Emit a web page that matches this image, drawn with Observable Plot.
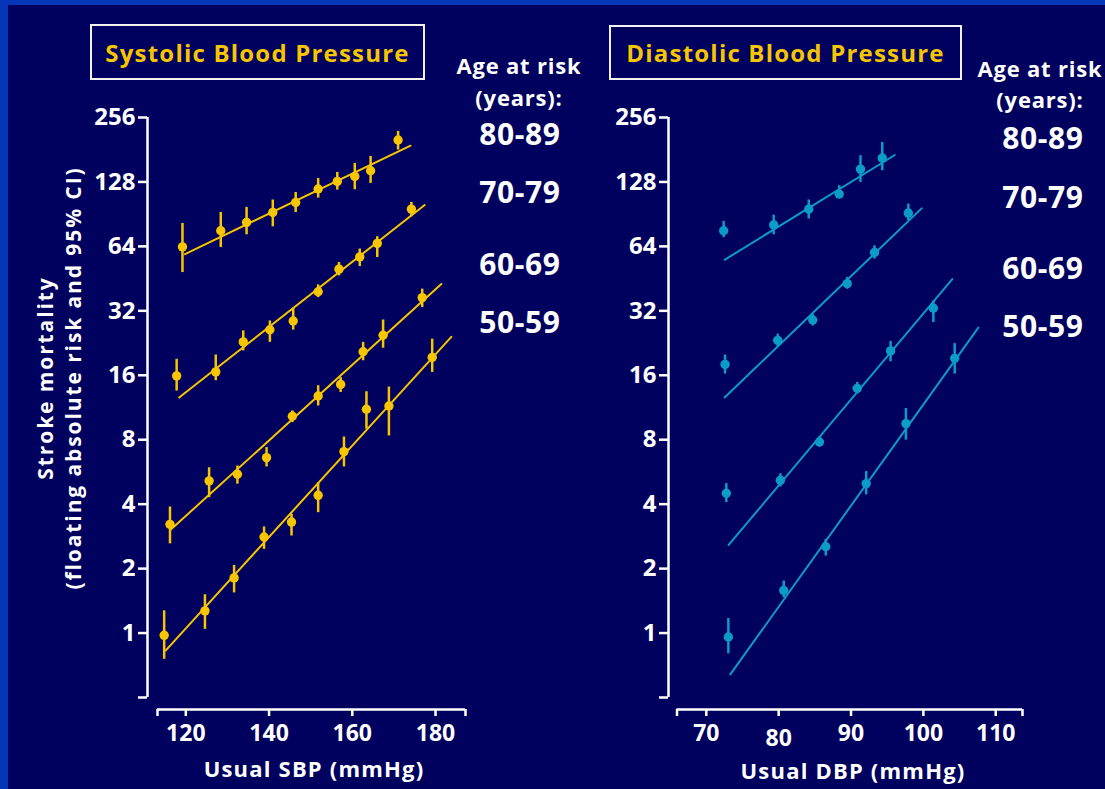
<!DOCTYPE html>
<html>
<head>
<meta charset="utf-8">
<script src="https://cdn.jsdelivr.net/npm/d3@7"></script>
<script src="https://cdn.jsdelivr.net/npm/@observablehq/plot@0.6"></script>
<style>
  html, body { margin: 0; padding: 0; background: #0636b8; }
  #page { position: relative; width: 1105px; height: 789px; overflow: hidden; background: #0636b8; font-family: "Open Sans", sans-serif; font-weight: 700; color: #fff; }
  #inner { position: absolute; left: 8px; top: 5px; right: 0; bottom: 0; background: #00005e; }
  .abs { position: absolute; white-space: nowrap; transform: translate(-50%, -50%); text-align: center; line-height: 1; }
  .box { position: absolute; border: 2.5px solid #f2f2f2; box-sizing: border-box; color: #f7c600; font-size: 24px; letter-spacing: 1.2px; display: flex; align-items: center; justify-content: center; }
  .plot { position: absolute; top: 0; }
  .age { font-size: 30px; letter-spacing: 0.6px; }
  .hdr { font-size: 22px; letter-spacing: 0.8px; }
  .xl { font-size: 22px; letter-spacing: 1.2px; }
  .yl { font-size: 21px; letter-spacing: 1.9px; }
</style>
</head>
<body>
<div id="page">
  <div id="inner"></div>
</div>
<script>
// ---------- data ----------
const ageGroups = ["80-89", "70-79", "60-69", "50-59"];
const riskTicks = [0.5, 1, 2, 4, 8, 16, 32, 64, 128, 256];

// Systolic blood pressure panel
const sbpTicks = [120, 140, 160, 180];
const sbpDomain = [113.2, 187.2];
const sbpX = [
  [119.2, 128.4, 134.6, 140.9, 146.4, 151.8, 156.4, 160.6, 164.4, 171.0],
  [117.8, 127.2, 133.8, 140.2, 145.8, 151.8, 156.8, 161.8, 166.0, 174.2],
  [116.2, 125.6, 132.4, 139.4, 145.6, 151.8, 157.2, 162.6, 167.4, 176.8],
  [114.8, 124.6, 131.6, 138.8, 145.4, 151.8, 158.0, 163.4, 168.8, 179.2]
];
const sbpRisk = [
  [63.7, 75.7, 82.8, 92.2, 102.6, 118.6, 128.7, 135.8, 144.4, 201.0],
  [15.9, 16.6, 22.9, 26.1, 28.7, 39.3, 50.1, 57.2, 66.1, 95.6],
  [3.22, 5.14, 5.52, 6.60, 10.3, 12.8, 14.5, 20.6, 24.6, 36.9],
  [0.976, 1.27, 1.81, 2.81, 3.30, 4.40, 7.04, 11.1, 11.5, 19.4]
];
const sbpLow = [
  [48.3, 63.2, 72.5, 79.0, 92.2, 107.6, 117.3, 117.7, 126.0, 180.4],
  [13.5, 15.1, 20.8, 22.8, 26.0, 36.9, 46.6, 51.5, 56.8, 88.0],
  [2.61, 4.29, 4.96, 5.97, 9.62, 11.5, 13.3, 18.7, 21.4, 33.2],
  [0.754, 1.04, 1.54, 2.46, 2.84, 3.65, 5.97, 8.96, 8.33, 16.5]
];
const sbpHigh = [
  [81.9, 92.2, 97.3, 105.4, 114.3, 132.9, 141.8, 156.2, 168.4, 220.4],
  [19.0, 19.9, 25.8, 28.7, 32.9, 42.3, 53.8, 62.2, 71.0, 102.7],
  [3.88, 5.92, 6.03, 7.35, 10.9, 14.3, 15.6, 22.8, 29.0, 40.4],
  [1.27, 1.51, 2.07, 3.13, 3.59, 5.04, 8.24, 13.4, 14.1, 23.6]
];
const sbpFitX = [[119.8, 174.0], [118.4, 177.4], [116.2, 181.4], [115.2, 183.8]];
const sbpFitRisk = [[58.9, 189.0], [12.6, 99.8], [3.02, 42.7], [0.830, 24.2]];

// Diastolic blood pressure panel
const dbpTicks = [70, 80, 90, 100, 110];
const dbpDroppedTicks = [80];
const dbpDomain = [65.95, 113.7];
const dbpX = [
  [72.40, 79.31, 84.16, 88.37, 91.31, 94.32],
  [72.59, 79.87, 84.71, 89.47, 93.25, 97.92],
  [72.77, 80.24, 85.64, 90.86, 95.47, 101.38],
  [73.05, 80.70, 86.51, 92.10, 97.59, 104.33]
];
const dbpRisk = [
  [75.7, 80.7, 95.6, 112.3, 147.0, 165.5],
  [18.0, 23.3, 29.0, 42.9, 59.9, 91.6],
  [4.50, 5.17, 7.81, 13.9, 20.8, 32.9],
  [0.958, 1.58, 2.53, 4.99, 9.51, 19.2]
];
const dbpLow = [
  [70.4, 72.5, 85.9, 107.8, 127.3, 144.4],
  [16.2, 21.6, 27.2, 40.4, 55.8, 84.3],
  [4.07, 4.81, 7.40, 13.1, 18.5, 28.2],
  [0.80, 1.46, 2.29, 4.42, 7.96, 16.2]
];
const dbpHigh = [
  [83.7, 89.6, 105.4, 122.9, 169.7, 195.8],
  [19.9, 24.9, 30.9, 45.8, 64.4, 100.9],
  [4.99, 5.55, 8.24, 14.8, 23.0, 35.6],
  [1.17, 1.75, 2.74, 5.68, 11.2, 22.5]
];
const dbpFitX = [[72.53, 96.06], [72.53, 99.76], [73.09, 104.0], [73.32, 107.6]];
const dbpFitRisk = [[55.4, 171.0], [12.6, 96.3], [2.58, 45.0], [0.641, 26.7]];

// ---------- build ----------
function rows(X, R, L, H) {
  const out = [];
  ageGroups.forEach((g, i) => X[i].forEach((x, j) => out.push({group: g, x, risk: R[i][j], lo: L[i][j], hi: H[i][j]})));
  return out;
}
function fitRows(FX, FR) {
  const out = [];
  ageGroups.forEach((g, i) => FX[i].forEach((x, j) => out.push({group: g, x, risk: FR[i][j]})));
  return out;
}

const FONT = '"Open Sans", sans-serif';

function panel(o) {
  const pts = rows(o.X, o.R, o.L, o.H);
  const fit = fitRows(o.FX, o.FR);
  const normalTicks = o.ticks.filter(t => !o.dropped.includes(t));
  return Plot.plot({
    width: o.width, height: 789,
    marginTop: 117, marginBottom: 80, marginLeft: o.marginLeft, marginRight: o.marginRight,
    x: {domain: o.domain, insetLeft: o.insetLeft},
    y: {type: "log", base: 2, domain: [riskTicks[0], riskTicks[riskTicks.length - 1]], insetBottom: 12},
    style: {background: "transparent", color: "#ffffff", fontFamily: FONT, fontWeight: 700, overflow: "visible"},
    marks: [
      Plot.ruleX([o.domain[0]], {y1: riskTicks[0], y2: riskTicks[riskTicks.length - 1], dx: -o.insetLeft, stroke: "#ffffff", strokeWidth: 2.5}),
      Plot.axisY({ticks: riskTicks, tickFormat: d => d >= 1 ? String(d) : "", tickSize: 9, tickPadding: 3, strokeWidth: 2.5, fontSize: 24, label: null}),
      Plot.ruleY([riskTicks[0]], {x1: o.domain[0], x2: o.domain[1], dy: 12, stroke: "#ffffff", strokeWidth: 2.5}),
      Plot.axisX({ticks: [o.domain[0], ...normalTicks, o.domain[1]], tickFormat: d => normalTicks.includes(d) ? String(d) : "", tickSize: 7, tickPadding: 8, strokeWidth: 2.5, fontSize: 23, label: null}),
      Plot.axisX({ticks: o.dropped, tickSize: 7, tickPadding: 13, strokeWidth: 2.5, fontSize: 23, label: null}),
      Plot.line(fit, {x: "x", y: "risk", z: "group", stroke: o.color, strokeWidth: 2}),
      Plot.ruleX(pts, {x: "x", y1: "lo", y2: "hi", stroke: o.color, strokeWidth: 2.5}),
      Plot.dot(pts, {x: "x", y: "risk", r: 4.7, fill: o.color, stroke: "none"})
    ]
  });
}

const page = document.getElementById("page");

const left = panel({
  width: 552, marginLeft: 147, marginRight: 87, insetLeft: 10,
  domain: sbpDomain, ticks: sbpTicks, dropped: [], color: "#f7c600",
  X: sbpX, R: sbpRisk, L: sbpLow, H: sbpHigh, FX: sbpFitX, FR: sbpFitRisk
});
left.classList.add("plot");
left.style.left = "0px";
page.appendChild(left);

const right = panel({
  width: 553, marginLeft: 116, marginRight: 83, insetLeft: 8.5,
  domain: dbpDomain, ticks: dbpTicks, dropped: dbpDroppedTicks, color: "#0a9bcb",
  X: dbpX, R: dbpRisk, L: dbpLow, H: dbpHigh, FX: dbpFitX, FR: dbpFitRisk
});
right.classList.add("plot");
right.style.left = "552px";
page.appendChild(right);

// ---------- text ----------
function addDiv(cls, html, x, y, extra) {
  const d = document.createElement("div");
  d.className = cls;
  d.innerHTML = html;
  d.style.left = x + "px";
  d.style.top = y + "px";
  if (extra) Object.assign(d.style, extra);
  page.appendChild(d);
  return d;
}
addDiv("box", "Systolic Blood Pressure", 90, 24, {width: "335px", height: "56px"});
addDiv("box", "Diastolic Blood Pressure", 609, 25, {width: "353px", height: "55px"});

addDiv("abs hdr", "Age at risk", 519, 65);
addDiv("abs hdr", "(years):", 519, 97);
addDiv("abs hdr", "Age at risk", 1040, 68);
addDiv("abs hdr", "(years):", 1040, 99);
const leftAgeY = [134, 192, 264, 322];
const rightAgeY = [138, 197, 268, 326];
ageGroups.forEach((g, i) => {
  addDiv("abs age", g, 520, leftAgeY[i]);
  addDiv("abs age", g, 1043, rightAgeY[i]);
});

addDiv("abs xl", "Usual SBP (mmHg)", 314, 768);
addDiv("abs xl", "Usual DBP (mmHg)", 853, 770);
addDiv("abs yl", "Stroke mortality", 45, 378, {transform: "translate(-50%, -50%) rotate(-90deg)"});
addDiv("abs yl", "(floating absolute risk and 95% CI)", 73, 378, {transform: "translate(-50%, -50%) rotate(-90deg)"});
</script>
</body>
</html>
